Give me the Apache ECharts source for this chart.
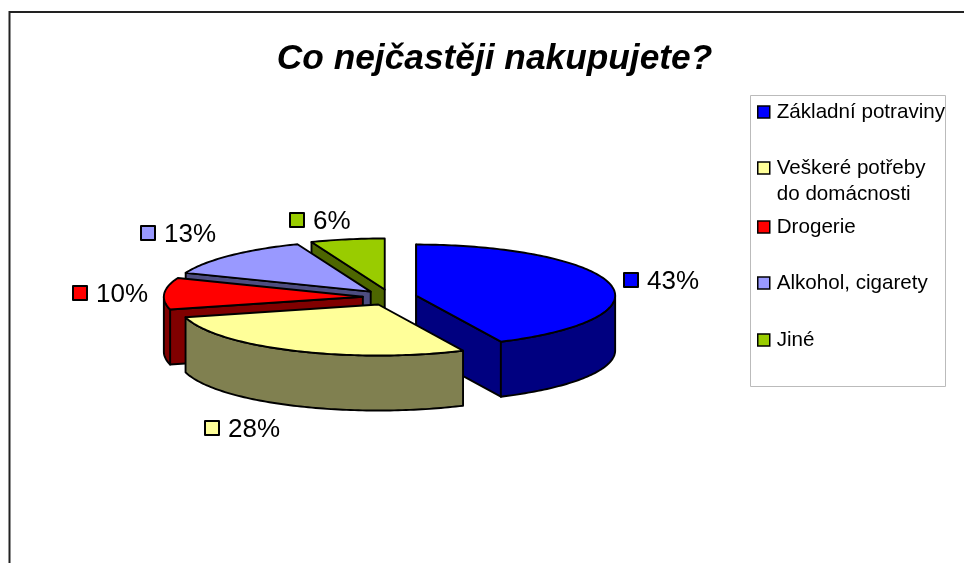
<!DOCTYPE html>
<html>
<head>
<meta charset="utf-8">
<style>html,body{margin:0;padding:0;background:#fff}#c{width:964px;height:563px}</style>
<script src="https://cdn.jsdelivr.net/npm/echarts@6/dist/echarts.min.js"></script>
</head>
<body>
<div id="c"></div>
<script>
const categories = ['Základní potraviny', 'Veškeré potřeby do domácnosti', 'Drogerie', 'Alkohol, cigarety', 'Jiné'];
const values = [43, 28, 10, 13, 6];
const topColors = ['#0000ff', '#ffff99', '#ff0000', '#9999ff', '#99cc00'];
const sideColors = ['#000080', '#808050', '#800000', '#4d4d80', '#4d6600'];
const paintOrder = [3, 4, 2, 1, 0];
const labelAnchors = [[631, 280], [212, 428], [80, 293], [148, 233], [297, 220]];
const legendTops = [99, 129, 214, 270, 327];

const pie = {cx: 389.8, cy: 297.3, rx: 199, ry: 51, depth: 55, explodeX: 27, explodeY: 8};
const total = values.reduce((a, b) => a + b, 0);

function renderSlice(i) {
  const before = values.slice(0, i).reduce((a, b) => a + b, 0);
  const t0 = before / total * Math.PI * 2;
  const t1 = (before + values[i]) / total * Math.PI * 2;
  const mid = (t0 + t1) / 2;
  const ax = pie.cx + pie.explodeX * Math.sin(mid);
  const ay = pie.cy - pie.explodeY * Math.cos(mid);
  const at = t => [ax + pie.rx * Math.sin(t), ay - pie.ry * Math.cos(t)];
  const arc = (a, b) => {
    const n = Math.max(2, Math.ceil((b - a) / 0.02));
    const pts = [];
    for (let k = 0; k <= n; k++) pts.push(at(a + (b - a) * k / n));
    return pts;
  };
  const down = p => [p[0], p[1] + pie.depth];
  const stroke = {stroke: '#000', lineWidth: 1.9, lineJoin: 'round'};
  const z2 = paintOrder[i];
  const children = [];
  const side = pts => children.push({
    type: 'polygon', z2: z2, shape: {points: pts},
    style: Object.assign({fill: sideColors[i]}, stroke)
  });
  const apex = [ax, ay];
  if (Math.sin(t0) <= 1e-9) side([apex, at(t0), down(at(t0)), down(apex)]);
  if (Math.sin(t1) > 1e-9) side([apex, at(t1), down(at(t1)), down(apex)]);
  const w0 = Math.max(t0, Math.PI / 2), w1 = Math.min(t1, Math.PI * 1.5);
  if (w1 > w0) {
    const a = arc(w0, w1);
    side(a.concat(a.map(down).reverse()));
  }
  children.push({
    type: 'polygon', z2: z2, shape: {points: [apex].concat(arc(t0, t1))},
    style: Object.assign({fill: topColors[i]}, stroke)
  });
  const [kx, ky] = labelAnchors[i];
  children.push({
    type: 'rect', z2: 20, shape: {x: kx - 7, y: ky - 7, width: 14, height: 14},
    style: Object.assign({fill: topColors[i]}, stroke, {lineWidth: 2})
  });
  children.push({
    type: 'text', z2: 20, x: kx + 16, y: ky + 1.5,
    style: {text: values[i] + '%', fill: '#000', font: '26px "Liberation Sans"', align: 'left', verticalAlign: 'middle'}
  });
  return {type: 'group', children: children};
}

const chart = echarts.init(document.getElementById('c'), null, {renderer: 'canvas'});
chart.setOption({
  animation: false,
  backgroundColor: '#fff',
  title: {
    text: 'Co nejčastěji nakupujete?',
    left: 494, top: 37, textAlign: 'center',
    textStyle: {fontFamily: 'Liberation Sans', fontSize: 35.3, fontWeight: 'bold', fontStyle: 'italic', color: '#000'}
  },
  legend: categories.map((name, i) => ({
    data: [name],
    left: 757, top: legendTops[i],
    orient: 'vertical', padding: 0, itemWidth: 12, itemHeight: 12, itemGap: 0,
    icon: 'rect',
    selectedMode: false,
    itemStyle: {borderColor: '#000', borderWidth: 1.5},
    formatter: n => n === categories[1] ? '\nVeškeré potřeby\ndo domácnosti' : n,
    textStyle: {fontFamily: 'Liberation Sans', fontSize: 20.6, color: '#000', lineHeight: 26, padding: [0, 0, 0, 2]}
  })),
  graphic: [
    {type: 'polyline', silent: true, shape: {points: [[9.5, 563], [9.5, 12], [964, 12]]}, style: {stroke: '#222', lineWidth: 2, fill: null}},
    {type: 'rect', silent: true, shape: {x: 750.5, y: 95.5, width: 195, height: 291}, style: {stroke: '#bbb', lineWidth: 1, fill: 'none'}}
  ],
  series: categories.map((name, i) => ({
    type: 'custom',
    name: name,
    coordinateSystem: 'none',
    itemStyle: {color: topColors[i]},
    silent: true,
    data: [[values[i]]],
    renderItem: () => renderSlice(i)
  }))
});
chart.setOption({title: {left: 489.5}});
</script>
</body>
</html>
